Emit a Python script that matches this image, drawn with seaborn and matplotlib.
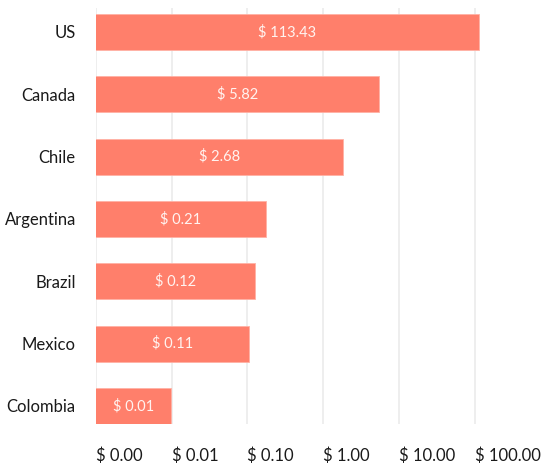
import numpy as np
import pandas as pd
import matplotlib
matplotlib.use("Agg")
import matplotlib.pyplot as plt
import seaborn as sns
from matplotlib.ticker import FixedLocator, FuncFormatter

# values (bar lengths) and the printed labels
countries = ["US", "Canada", "Chile", "Argentina", "Brazil", "Mexico", "Colombia"]
values = [113.43, 5.5, 1.84, 0.174, 0.125, 0.104, 0.0099]
labels = ["$ 113.43", "$ 5.82", "$ 2.68", "$ 0.21", "$ 0.12", "$ 0.11", "$ 0.01"]
ticks = [0.001, 0.01, 0.1, 1, 10, 100]

df = pd.DataFrame({"country": countries, "value": values})

sns.set_style("white")
plt.rcParams["font.family"] = ["Lato", "DejaVu Sans"]

fig = plt.figure(figsize=(5.46, 4.65), dpi=100)
# plot area: x 96..505 px, y 8..424 px
ax = fig.add_axes([96 / 546, 41 / 465, 409 / 546, 416 / 465])

sns.barplot(data=df, x="value", y="country", orient="h", color="#ff7f6b",
            saturation=1, width=0.58, edgecolor="#ffb2a5", linewidth=0.6, ax=ax)
ax.set_xscale("log")
ax.set_xlim(0.001, 10 ** 2.4)
ax.set_ylim(6.29, -0.385)

ax.xaxis.set_major_locator(FixedLocator(ticks))
ax.xaxis.set_minor_locator(FixedLocator([]))
ax.xaxis.set_major_formatter(FuncFormatter(lambda v, p: "$ {:.2f}".format(v)))
ax.grid(axis="x", color="#ebebeb", linewidth=1.2)
ax.set_axisbelow(True)
for s in ax.spines.values():
    s.set_visible(False)
ax.tick_params(axis="x", length=0, pad=17, labelsize=12, labelcolor="#1a1a1a")
ax.tick_params(axis="y", length=0, pad=14.5, labelsize=12, labelcolor="#1a1a1a")
for t in ax.get_xticklabels():
    t.set_ha("left")
ax.set_xlabel("")
ax.set_ylabel("")

# labels sit in the middle of each bar (log space)
for i, (v, lab) in enumerate(zip(values, labels)):
    ax.text(np.sqrt(0.001 * v), i, lab, ha="center", va="center",
            color="#fff3f0", fontsize=10.5)

fig.savefig("out.png", dpi=100)
